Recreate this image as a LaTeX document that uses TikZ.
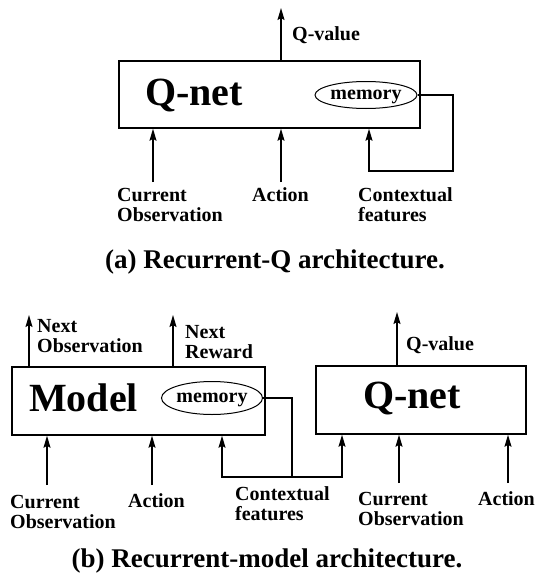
\documentclass[tikz,border=0pt]{standalone}
\usepackage{fontspec}
\setmainfont{Liberation Serif}
\usetikzlibrary{arrows.meta,shapes.geometric,positioning}

\tikzset{
  block/.style={draw, line width=1.5pt, rectangle, inner sep=0pt},
  mem/.style={draw, ellipse, line width=1pt, inner sep=0pt, text depth=0pt,
    font=\fontsize{20}{20}\selectfont\bfseries},
  lbl/.style={inner sep=0pt, align=left, anchor=west,
    font=\fontsize{20}{20}\selectfont\bfseries},
  big/.style={inner sep=0pt, font=\fontsize{40}{40}\selectfont\bfseries},
  capt/.style={inner sep=0pt, font=\fontsize{27}{27}\selectfont\bfseries},
  wire/.style={line width=1.5pt},
  flow/.style={wire, -{Stealth[length=12pt,width=7pt,inset=2pt]}},
}

\begin{document}
\begin{tikzpicture}[x=1pt,y=-1pt]
  \useasboundingbox (0,0) rectangle (538,578);

  % (a) recurrent Q
  \node[block, minimum width=301pt, minimum height=67pt] (qa) at (269.5,94.5) {};
  \node[big] (qaname) at (194,95) {Q-net};
  \node[mem, minimum width=102pt, minimum height=27pt] (mema) at (366,95) {memory};
  \node[lbl] (qvala) at (292,35) {Q-value};
  \node[lbl] (obsa) at (117,205) {Current\\Observation};
  \node[lbl] (acta) at (252,195) {Action};
  \node[lbl] (ctxa) at (358,205) {Contextual\\features};

  \coordinate (qvtipa) at (281,8);
  \coordinate (obsfoota) at (153,182);
  \coordinate (actfoota) at (281,182);
  \coordinate (loopa) at (453,171);
  \coordinate (ctxfoota) at (369,171);

  \draw[flow] (qvtipa |- qa.north) -- (qvtipa);
  \draw[flow] (obsfoota) -- (obsfoota |- qa.south);
  \draw[flow] (actfoota) -- (actfoota |- qa.south);
  \draw[flow] (mema.east) -| (loopa) -- (ctxfoota) -- (ctxfoota |- qa.south);

  \node[capt] (capa) at (275,262) {(a) Recurrent-Q architecture.};

  % (b) recurrent model
  \node[block, minimum width=253pt, minimum height=68pt] (model) at (138.5,401) {};
  \node[big] (modelname) at (83.5,398) {Model};
  \node[mem, minimum width=101pt, minimum height=33pt] (memb) at (212,398) {memory};
  \node[block, minimum width=210pt, minimum height=68pt] (qb) at (421,400) {};
  \node[big] (qbname) at (412,398) {Q-net};

  \node[lbl] (nextobs) at (37,336.5) {Next\\Observation};
  \node[lbl] (nextrew) at (185,342) {Next\\Reward};
  \node[lbl] (qvalb) at (406,345) {Q-value};
  \node[lbl] (obsm) at (10,511.5) {Current\\Observation};
  \node[lbl] (actm) at (128,501) {Action};
  \node[lbl] (ctxb) at (235,504) {Contextual\\features};
  \node[lbl] (obsq) at (358,508.5) {Current\\Observation};
  \node[lbl] (actq) at (478,499) {Action};

  \coordinate (nobstip) at (29,315);
  \coordinate (nrewtip) at (173,315);
  \coordinate (qvtipb) at (397,312);
  \coordinate (obsfootm) at (47,485);
  \coordinate (actfootm) at (152,485);
  \coordinate (obsfootq) at (399,483);
  \coordinate (actfootq) at (508,483);
  \coordinate (joinb) at (292,477);
  \coordinate (ctxfootm) at (222,477);
  \coordinate (ctxfootq) at (342,477);

  \draw[flow] (nobstip |- model.north) -- (nobstip);
  \draw[flow] (nrewtip |- model.north) -- (nrewtip);
  \draw[flow] (qvtipb |- qb.north) -- (qvtipb);
  \draw[flow] (obsfootm) -- (obsfootm |- model.south);
  \draw[flow] (actfootm) -- (actfootm |- model.south);
  \draw[flow] (obsfootq) -- (obsfootq |- qb.south);
  \draw[flow] (actfootq) -- (actfootq |- qb.south);
  \draw[wire] (memb.east) -| (joinb);
  \draw[flow] (joinb) -- (ctxfootm) -- (ctxfootm |- model.south);
  \draw[flow] (joinb) -- (ctxfootq) -- (ctxfootq |- qb.south);

  \node[capt] (capb) at (267,561) {(b) Recurrent-model architecture.};
\end{tikzpicture}
\end{document}
